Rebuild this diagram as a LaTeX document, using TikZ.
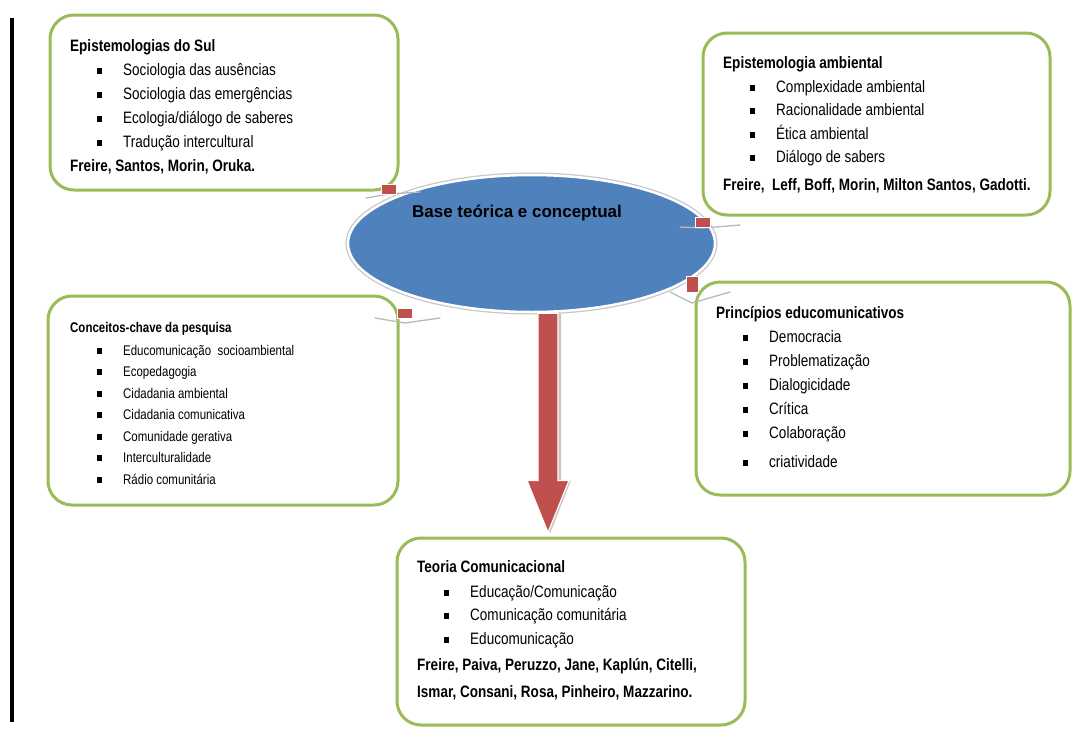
\documentclass[tikz,border=0pt]{standalone}
\usepackage{fontspec}
\setmainfont{Liberation Sans}[FakeStretch=0.82]
\newfontfamily\widefont{Liberation Sans}
\usepackage{tikz}
\usetikzlibrary{calc,shapes.geometric,positioning}
\definecolor{boxgreen}{HTML}{9BBB59}
\definecolor{ellblue}{HTML}{4F81BD}
\definecolor{arrred}{HTML}{C0504D}
\newcommand{\itm}[1]{\makebox[53pt][l]{\hspace{27pt}\rule[1.5pt]{5pt}{6pt}}#1}
\tikzset{
  topic/.style={draw=boxgreen, line width=3pt, rounded corners=24pt, fill=white, inner sep=0pt},
  topictxt/.style={anchor=north west, inner sep=0pt, align=left, font=\fontsize{16.5}{24}\selectfont},
  smalltxt/.style={topictxt, font=\fontsize{14}{21.5}\selectfont},
  core/.style={ellipse, draw=white, line width=2.5pt, fill=ellblue, inner sep=0pt,
    preaction={draw=gray!45, line width=5pt}},
  coretxt/.style={inner sep=0pt, font=\widefont\bfseries\fontsize{17}{20}\selectfont},
  redtab/.style={draw=white, line width=0.8pt, fill=arrred, inner sep=0pt},
  wing/.style={draw=gray!55, line width=1.3pt, line cap=round},
  bigarrow/.style={fill=arrred, draw=white, line width=1.2pt},
  barline/.style={line width=4pt, black}
}
\begin{document}
\begin{tikzpicture}[x=1pt,y=-1pt]
  \useasboundingbox (0,0) rectangle (1089,736);
  \draw[barline] (12,18) -- (12,722);
  \node[topic, minimum width=348pt, minimum height=175pt] (sul) at (224,102.5) {};
  \node[topic, minimum width=347pt, minimum height=182pt] (amb) at (876.5,124) {};
  \node[topic, minimum width=350pt, minimum height=209pt] (conc) at (223,400.5) {};
  \node[topic, minimum width=374pt, minimum height=213pt] (princ) at (883,388.5) {};
  \node[topic, minimum width=348pt, minimum height=187pt] (teoria) at (571,631.5) {};
  \node[core, minimum width=367pt, minimum height=137pt] (base) at (531.5,243.5) {};
  \node[coretxt] (basetxt) at (517,213) {Base teórica e conceptual};
  \node[topictxt] (sultxt) at (70,39) {\textbf{Epistemologias do Sul}\\
    \itm{Sociologia das ausências}\\
    \itm{Sociologia das emergências}\\
    \itm{Ecologia/diálogo de saberes}\\
    \itm{Tradução intercultural}\\
    \textbf{Freire, Santos, Morin, Oruka.}};
  \node[topictxt] (ambtxt) at (723,56) {\textbf{Epistemologia ambiental}\\
    \itm{Complexidade ambiental}\\[-0.5pt]
    \itm{Racionalidade ambiental}\\[-0.5pt]
    \itm{Ética ambiental}\\[-0.5pt]
    \itm{Diálogo de sabers}\\[4pt]
    \textbf{Freire,\ \ Leff, Boff, Morin, Milton Santos, Gadotti.}};
  \node[smalltxt] (conctxt) at (70,322) {\textbf{Conceitos-chave da pesquisa}\\[1.5pt]
    \itm{Educomunicação\ \ socioambiental}\\
    \itm{Ecopedagogia}\\
    \itm{Cidadania ambiental}\\
    \itm{Cidadania comunicativa}\\
    \itm{Comunidade gerativa}\\
    \itm{Interculturalidade}\\
    \itm{Rádio comunitária}};
  \node[topictxt] (princtxt) at (716,306) {\textbf{Princípios educomunicativos}\\
    \itm{Democracia}\\
    \itm{Problematização}\\
    \itm{Dialogicidade}\\
    \itm{Crítica}\\
    \itm{Colaboração}\\[5pt]
    \itm{criatividade}};
  \node[topictxt] (teoriatxt) at (417,560) {\textbf{Teoria Comunicacional}\\[1pt]
    \itm{Educação/Comunicação}\\[-1pt]
    \itm{Comunicação comunitária}\\
    \itm{Educomunicação}\\[2pt]
    \textbf{Freire, Paiva, Peruzzo, Jane, Kaplún, Citelli,}\\[3pt]
    \textbf{Ismar, Consani, Rosa, Pinheiro, Mazzarino.}};
  \coordinate (atop) at ($(base.south)+(16.5,0)$);
  \coordinate (atip) at ($(teoria.north)+(-23,-4)$);
  \fill[gray!45] ($(atop)+(-8,0)$) -- ($(atip)+(-8,-52)$) -- ($(atip)+(-19,-52)$) -- ($(atip)+(2,1)$)
    -- ($(atip)+(23,-52)$) -- ($(atip)+(13,-52)$) -- ($(atop)+(13,0)$) -- cycle;
  \draw[bigarrow] ($(atop)+(-10,0)$) -- ($(atip)+(-10,-52)$) -- ($(atip)+(-21,-52)$) -- (atip)
    -- ($(atip)+(21,-52)$) -- ($(atip)+(10,-52)$) -- ($(atop)+(10,0)$) -- cycle;
  \draw[wing] (366,198) -- (389,194) -- (420,192);
  \node[redtab, minimum width=15pt, minimum height=10pt] (tab1) at (389,189) {};
  \draw[wing] (680,227) -- (703,228) -- (740,225);
  \node[redtab, minimum width=15pt, minimum height=10pt] (tab2) at (703,222) {};
  \draw[wing] (670,292) -- (692,303) -- (730,292);
  \node[redtab, minimum width=12pt, minimum height=16pt] (tab3) at (692,284) {};
  \draw[wing] (375,318) -- (405,323) -- (440,318);
  \node[redtab, minimum width=15pt, minimum height=10pt] (tab4) at (405,313) {};
\end{tikzpicture}
\end{document}
